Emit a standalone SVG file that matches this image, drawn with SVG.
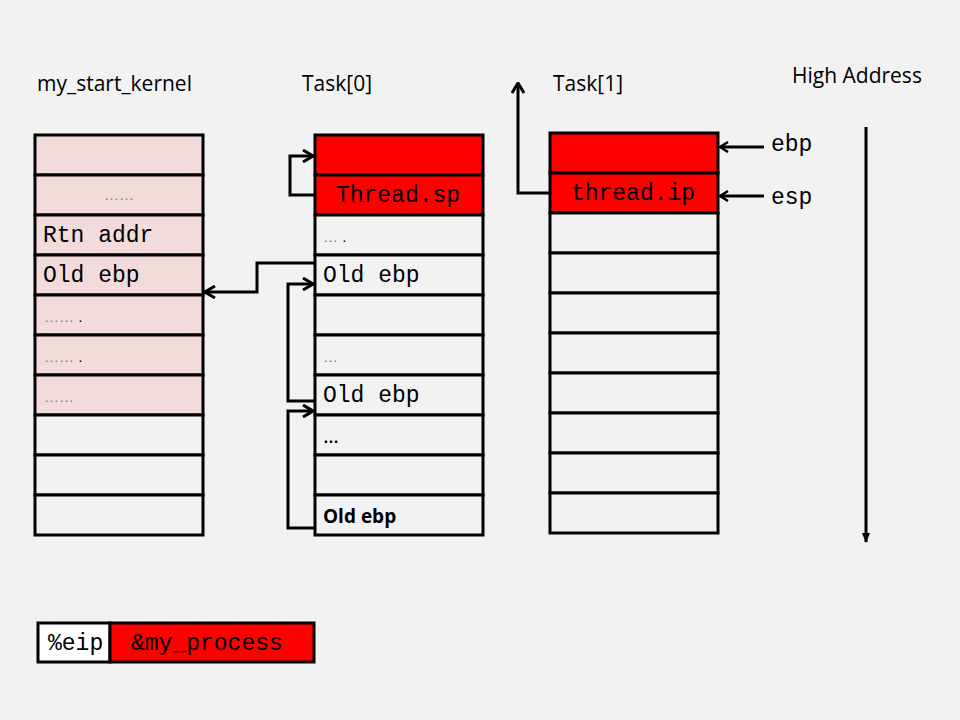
<svg xmlns="http://www.w3.org/2000/svg" width="960" height="720" viewBox="0 0 960 720">
<defs>
<style>
.cell{stroke:#000;stroke-width:3}
.pink{fill:#F2DCDB}
.bg{fill:#F2F2F2}
.red{fill:#FF0000}
.wh{fill:#FFFFFF}
.title{font-family:"Open Sans","Liberation Sans",sans-serif;font-size:21px;fill:#000}
.mono{font-family:"Liberation Mono","Courier New",monospace;font-size:23px;fill:#000}
.dots{font-family:"Liberation Sans",sans-serif;font-size:15px;fill:#7F7F7F}
.bdots{font-family:"Liberation Sans",sans-serif;font-size:16px;font-weight:bold;fill:#000}
.bold{font-family:"Open Sans","Liberation Sans",sans-serif;font-size:19px;font-weight:bold;fill:#000}
.conn{fill:none;stroke:#000;stroke-width:3}
</style>
<marker id="chev" viewBox="0 0 12 14" refX="11" refY="7" markerWidth="12" markerHeight="14" markerUnits="userSpaceOnUse" orient="auto">
<path d="M1,1 L11,7 L1,13" fill="none" stroke="#000" stroke-width="3"/>
</marker>
<marker id="chevs" viewBox="0 0 10 12" refX="9" refY="6" markerWidth="10" markerHeight="12" markerUnits="userSpaceOnUse" orient="auto">
<path d="M1,1 L9,6 L1,11" fill="none" stroke="#000" stroke-width="2.5"/>
</marker>
<marker id="tri" viewBox="0 0 10 10" refX="9" refY="5" markerWidth="10" markerHeight="10" markerUnits="userSpaceOnUse" orient="auto">
<path d="M0,1 L10,5 L0,9 Z" fill="#000"/>
</marker>
</defs>
<rect width="960" height="720" fill="#F2F2F2"/>

<text class="title" x="37" y="91">my_start_kernel</text>
<text class="title" x="302" y="91">Task[0]</text>
<text class="title" x="553" y="91">Task[1]</text>
<text class="title" x="792" y="83">High Address</text>

<g id="stack-my-start-kernel">
<rect class="cell pink" x="35" y="135" width="168" height="40"/>
<rect class="cell pink" x="35" y="175" width="168" height="40"/>
<rect class="cell pink" x="35" y="215" width="168" height="40"/>
<rect class="cell pink" x="35" y="255" width="168" height="40"/>
<rect class="cell pink" x="35" y="295" width="168" height="40"/>
<rect class="cell pink" x="35" y="335" width="168" height="40"/>
<rect class="cell pink" x="35" y="375" width="168" height="40"/>
<rect class="cell bg" x="35" y="415" width="168" height="40"/>
<rect class="cell bg" x="35" y="455" width="168" height="40"/>
<rect class="cell bg" x="35" y="495" width="168" height="40"/>
<text class="dots" x="119" y="200" text-anchor="middle">……</text>
<text class="mono" x="43" y="242">Rtn addr</text>
<text class="mono" x="43" y="282">Old ebp</text>
<text class="dots" x="44" y="322">……<tspan fill="#000"> .</tspan></text>
<text class="dots" x="44" y="362">……<tspan fill="#000"> .</tspan></text>
<text class="dots" x="44" y="402">……</text>
</g>

<g id="stack-task0">
<rect class="cell red" x="315" y="135" width="168" height="40"/>
<rect class="cell red" x="315" y="175" width="168" height="40"/>
<rect class="cell bg" x="315" y="215" width="168" height="40"/>
<rect class="cell bg" x="315" y="255" width="168" height="40"/>
<rect class="cell bg" x="315" y="295" width="168" height="40"/>
<rect class="cell bg" x="315" y="335" width="168" height="40"/>
<rect class="cell bg" x="315" y="375" width="168" height="40"/>
<rect class="cell bg" x="315" y="415" width="168" height="40"/>
<rect class="cell bg" x="315" y="455" width="168" height="40"/>
<rect class="cell bg" x="315" y="495" width="168" height="40"/>
<text class="mono" x="398" y="202" text-anchor="middle">Thread.sp</text>
<text class="dots" x="323" y="242">…<tspan fill="#000"> .</tspan></text>
<text class="mono" x="323" y="282">Old ebp</text>
<text class="dots" x="323" y="362">…</text>
<text class="mono" x="323" y="402">Old ebp</text>
<text class="bdots" x="323" y="443">…</text>
<text class="bold" x="323" y="523">Old ebp</text>
</g>

<g id="stack-task1">
<rect class="cell red" x="550" y="133" width="168" height="40"/>
<rect class="cell red" x="550" y="173" width="168" height="40"/>
<rect class="cell bg" x="550" y="213" width="168" height="40"/>
<rect class="cell bg" x="550" y="253" width="168" height="40"/>
<rect class="cell bg" x="550" y="293" width="168" height="40"/>
<rect class="cell bg" x="550" y="333" width="168" height="40"/>
<rect class="cell bg" x="550" y="373" width="168" height="40"/>
<rect class="cell bg" x="550" y="413" width="168" height="40"/>
<rect class="cell bg" x="550" y="453" width="168" height="40"/>
<rect class="cell bg" x="550" y="493" width="168" height="40"/>
<text class="mono" x="633" y="200" text-anchor="middle">thread.ip</text>
</g>

<g id="labels-regs">
<text class="mono" x="771" y="151">ebp</text>
<text class="mono" x="771" y="204">esp</text>
</g>

<g id="eip-box">
<rect class="cell wh" x="38" y="623" width="72" height="39"/>
<rect class="cell red" x="110" y="623" width="204" height="39"/>
<text class="mono" x="48" y="650" font-size="22">%eip</text>
<text class="mono" x="131" y="650">&amp;my_process</text>
</g>

<g id="connectors">
<polyline class="conn" points="315,195 290,195 290,156 313,156" marker-end="url(#chev)"/>
<polyline class="conn" points="315,263 257,263 257,292 205,292" marker-end="url(#chev)"/>
<polyline class="conn" points="315,401 288,401 288,284 313,284" marker-end="url(#chev)"/>
<polyline class="conn" points="315,528 288,528 288,411 313,411" marker-end="url(#chev)"/>
<polyline class="conn" points="550,193 518,193 518,83" marker-end="url(#chev)"/>
<line class="conn" x1="764" y1="147" x2="720" y2="147" stroke-width="2.5" marker-end="url(#chevs)"/>
<line class="conn" x1="764" y1="196" x2="720" y2="196" stroke-width="2.5" marker-end="url(#chevs)"/>
<line class="conn" x1="866" y1="127" x2="866" y2="542" marker-end="url(#tri)"/>
</g>
</svg>
